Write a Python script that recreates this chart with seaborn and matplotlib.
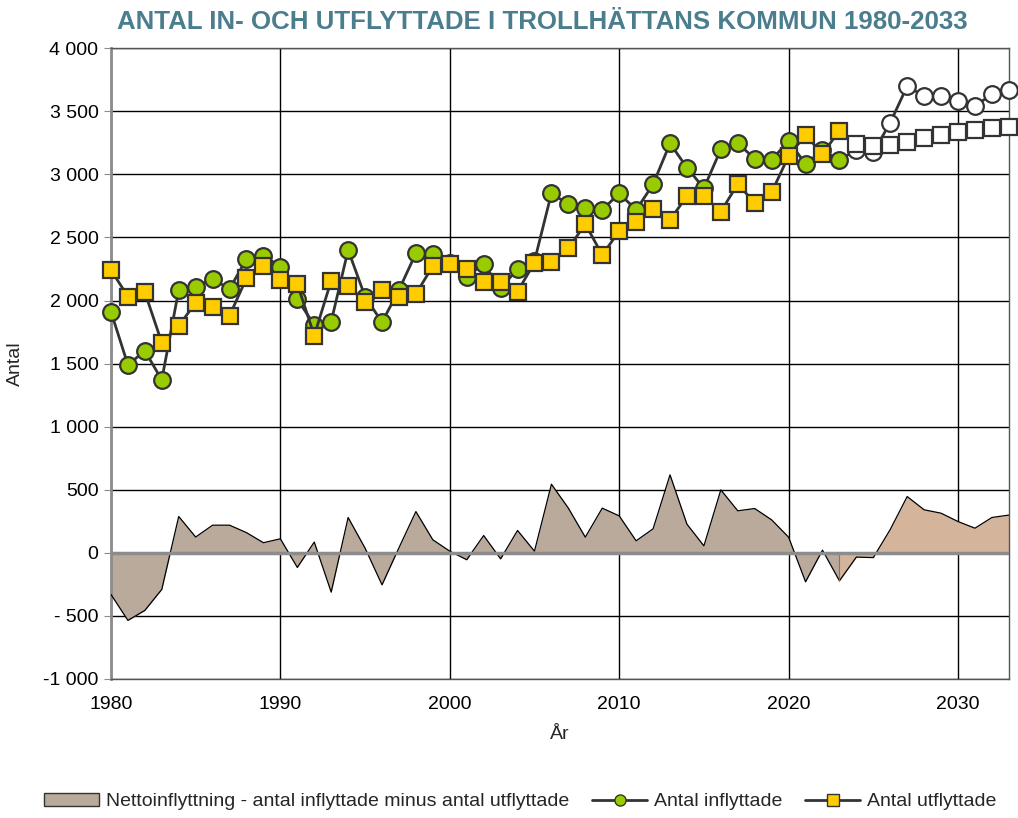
import numpy as np
import pandas as pd
import seaborn as sns
import matplotlib.pyplot as plt
from matplotlib.lines import Line2D
from matplotlib.patches import Patch

# values
years = list(range(1980, 2034))
inflyttade = [1912, 1490, 1601, 1371, 2084, 2110, 2171, 2092, 2330, 2356,
              2269, 2010, 1807, 1833, 2401, 2031, 1828, 2084, 2375, 2369,
              2300, 2190, 2290, 2097, 2250, 2313, 2850, 2763, 2731, 2718,
              2850, 2718, 2921, 3246, 3053, 2890, 3199, 3246, 3125, 3114,
              3267, 3082, 3190, 3114, 3195, 3175, 3410, 3700, 3621, 3621,
              3582, 3542, 3635, 3669]
utflyttade = [2243, 2031, 2066, 1666, 1799, 1983, 1952, 1880, 2177, 2274,
              2163, 2132, 1722, 2158, 2118, 1986, 2084, 2026, 2052, 2274,
              2290, 2248, 2150, 2145, 2071, 2300, 2308, 2414, 2607, 2361,
              2551, 2625, 2724, 2639, 2829, 2829, 2705, 2924, 2774, 2858,
              3146, 3312, 3162, 3348, 3238, 3222, 3233, 3259, 3286, 3312,
              3338, 3352, 3365, 3378]
netto = [-330, -536, -457, -290, 288, 125, 219, 219, 160, 80,
         111, -116, 85, -312, 280, 37, -254, 40, 327, 103,
         13, -55, 137, -48, 177, 13, 544, 354, 124, 354,
         293, 95, 190, 618, 227, 55, 499, 333, 351, 261,
         124, -230, 21, -222, -34, -38, 185, 446, 341, 314,
         248, 195, 280, 299]
last_actual = 2023

y_ticks = [-1000, -500, 0, 500, 1000, 1500, 2000, 2500, 3000, 3500, 4000]
y_labels = ['-1 000', '- 500', '0', '500', '1 000', '1 500', '2 000',
            '2 500', '3 000', '3 500', '4 000']

df = pd.DataFrame({'year': years, 'in': inflyttade, 'ut': utflyttade, 'netto': netto})
hist = df[df['year'] <= last_actual]
prog = df[df['year'] >= last_actual]
prog_m = df[df['year'] > last_actual]

sns.set_style('white')
plt.rcParams['font.family'] = ['Liberation Sans', 'DejaVu Sans']

fig = plt.figure(figsize=(10.18, 8.18), dpi=100)
ax = fig.add_axes([0.109, 0.170, 0.882, 0.771])

line_col = '#333333'
green = '#99cc00'
yellow = '#ffcc00'
area_hist = '#b9aa9b'
area_prog = '#d4b59c'

# net migration area
ax.fill_between(hist['year'], hist['netto'], 0, color=area_hist, lw=0, zorder=2)
ax.fill_between(prog['year'], prog['netto'], 0, color=area_prog, lw=0, zorder=2)
sns.lineplot(x=df['year'], y=df['netto'], color='black', lw=0.9, ax=ax, zorder=3)
ax.plot([last_actual, last_actual], [0, hist['netto'].iloc[-1]], color='#8a7565', lw=0.8, zorder=3)

# inflyttade
sns.lineplot(x=df['year'], y=df['in'], color=line_col, lw=2, ax=ax, zorder=4)
ax.plot(hist['year'], hist['in'], ls='none', marker='o', ms=12, mfc=green,
        mec=line_col, mew=1.6, zorder=5, clip_on=False)
ax.plot(prog_m['year'], prog_m['in'], ls='none', marker='o', ms=12, mfc='white',
        mec=line_col, mew=1.6, zorder=5, clip_on=False)

# utflyttade
sns.lineplot(x=df['year'], y=df['ut'], color=line_col, lw=2, ax=ax, zorder=6)
ax.plot(hist['year'], hist['ut'], ls='none', marker='s', ms=11.5, mfc=yellow,
        mec=line_col, mew=1.6, zorder=7, clip_on=False)
ax.plot(prog_m['year'], prog_m['ut'], ls='none', marker='s', ms=11.5, mfc='white',
        mec=line_col, mew=1.6, zorder=7, clip_on=False)

ax.set_xlim(1980, 2033)
ax.set_ylim(-1000, 4000)
ax.set_xticks([1980, 1990, 2000, 2010, 2020, 2030])
ax.set_yticks(y_ticks)
ax.set_yticklabels(y_labels)
ax.grid(True, color='black', lw=1)
ax.axhline(0, color='#8c8c8c', lw=2.5, zorder=3.5)
ax.tick_params(axis='both', labelsize=14, colors='black')
ax.tick_params(axis='y', length=5, color='#8c8c8c', direction='out', left=True, pad=4)
ax.tick_params(axis='x', length=0, pad=12)
for s in ['top', 'right', 'bottom']:
    ax.spines[s].set_color('#555555')
    ax.spines[s].set_linewidth(1)
ax.spines['left'].set_color('#8c8c8c')
ax.spines['left'].set_linewidth(2)

ax.set_xlabel('År', fontsize=14, labelpad=10)
ax.set_ylabel('Antal', fontsize=14, labelpad=14)

fig.suptitle('ANTAL IN- OCH UTFLYTTADE I TROLLHÄTTANS KOMMUN 1980-2033',
             fontsize=18.6, fontweight='bold', color='#4a7d8e', y=0.988, x=0.533)

handles = [
    Patch(facecolor=area_hist, edgecolor='#333333', lw=1),
    Line2D([], [], color=line_col, lw=2, marker='o', ms=8, mfc=green, mec=line_col),
    Line2D([], [], color=line_col, lw=2, marker='s', ms=8, mfc=yellow, mec=line_col),
]
labels = ['Nettoinflyttning - antal inflyttade minus antal utflyttade',
          'Antal inflyttade', 'Antal utflyttade']
fig.legend(handles, labels, loc='lower center', ncol=3, frameon=False,
           fontsize=14, bbox_to_anchor=(0.511, -0.012), handlelength=2.8,
           columnspacing=1.2, handletextpad=0.35)

fig.savefig('out.png', dpi=100)
